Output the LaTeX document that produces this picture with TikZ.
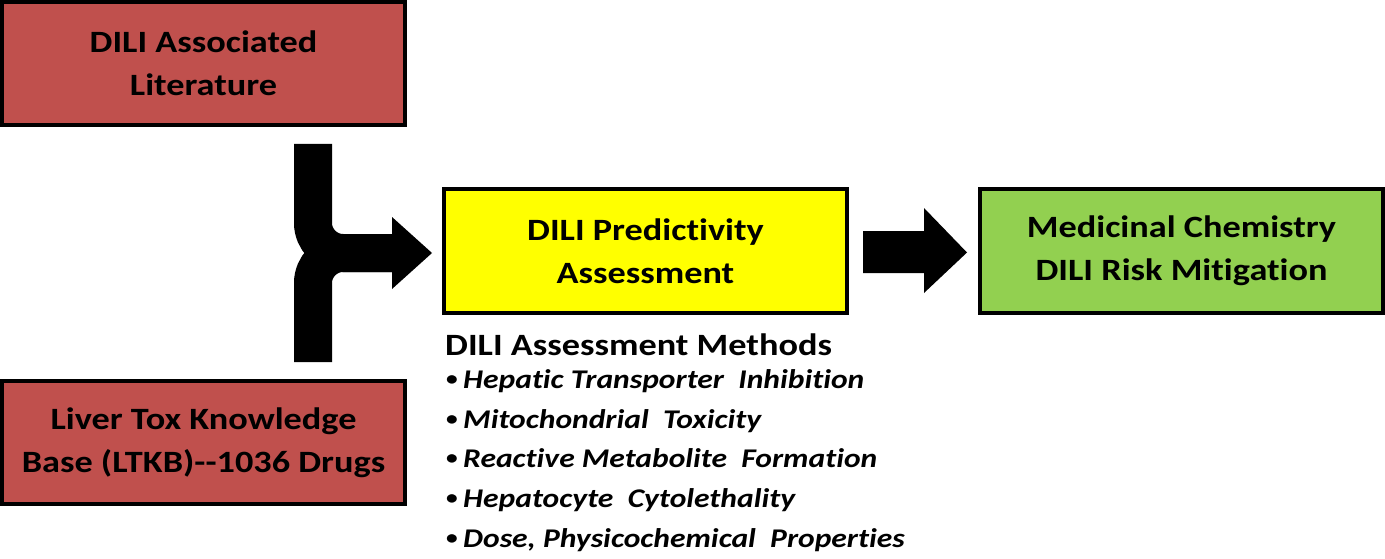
\documentclass[tikz,border=0pt]{standalone}
\usepackage{fontspec}
\setmainfont{Carlito}[FakeStretch=1.17,Ligatures={NoCommon}]
\definecolor{boxred}{HTML}{C0504D}
\definecolor{boxyellow}{HTML}{FFFF00}
\definecolor{boxgreen}{HTML}{92D050}
\begin{document}
\begin{tikzpicture}[x=1pt,y=-1pt,
  box/.style={draw=black,line width=4pt,minimum width=403pt,minimum height=123pt,inner sep=0pt,
    align=center,font=\fontsize{31}{43}\selectfont\bfseries},
  bigarrow/.style={fill=black,draw=none},
  band/.style={draw=black,line width=38pt,line cap=butt,rounded corners=30pt},
  head/.style={font=\fontsize{31}{36}\selectfont\bfseries,anchor=base west,inner sep=0pt},
  item/.style={font=\fontsize{27}{32}\selectfont\bfseries\itshape,anchor=base west,inner sep=0pt},
  bullet/.style={font=\fontsize{20}{24}\selectfont\bfseries,anchor=base west,inner sep=0pt}]
\useasboundingbox (0,0) rectangle (1385,559);
\node[box,fill=boxred] (lit) at (203.5,63.5) {DILI Associated\\Literature};
\node[box,fill=boxred] (ltkb) at (203.5,442.5) {Liver Tox Knowledge\\Base (LTKB){-}{-}1036 Drugs};
\node[box,fill=boxyellow] (pred) at (645.5,251) {DILI Predictivity\\Assessment};
\node[box,fill=boxgreen] (med) at (1181.5,251) {Medicinal Chemistry\\DILI Risk Mitigation};
% merging arrow
\coordinate (ts) at (313,144);
\coordinate (bs) at (313,362);
\coordinate (j) at (313,253);
\coordinate (he) at (395,253);
\draw[band] (ts) -- (j) -- (he);
\draw[band] (bs) -- (j) -- (he);
\fill[bigarrow] (392,217) -- (432,253) -- (392,289) -- cycle;
% right arrow
\fill[bigarrow] (863,231) -- (924,231) -- (924,208) -- (967,252.5) -- (924,293) -- (924,273) -- (863,273) -- cycle;
% methods
\node[head] (mh) at (445,355) {DILI Assessment Methods};
\node[bullet] (b1) at (446,385) {\textbullet};
\node[item] (m1) at (463,388) {Hepatic Transporter\ \ Inhibition};
\node[bullet] (b2) at (446,425) {\textbullet};
\node[item] (m2) at (463,428) {Mitochondrial\ \ Toxicity};
\node[bullet] (b3) at (446,464) {\textbullet};
\node[item] (m3) at (463,467) {Reactive Metabolite\ \ Formation};
\node[bullet] (b4) at (446,504) {\textbullet};
\node[item] (m4) at (463,507) {Hepatocyte\ \ Cytolethality};
\node[bullet] (b5) at (446,544) {\textbullet};
\node[item] (m5) at (463,547) {Dose, Physicochemical\ \ Properties};
\end{tikzpicture}
\end{document}
